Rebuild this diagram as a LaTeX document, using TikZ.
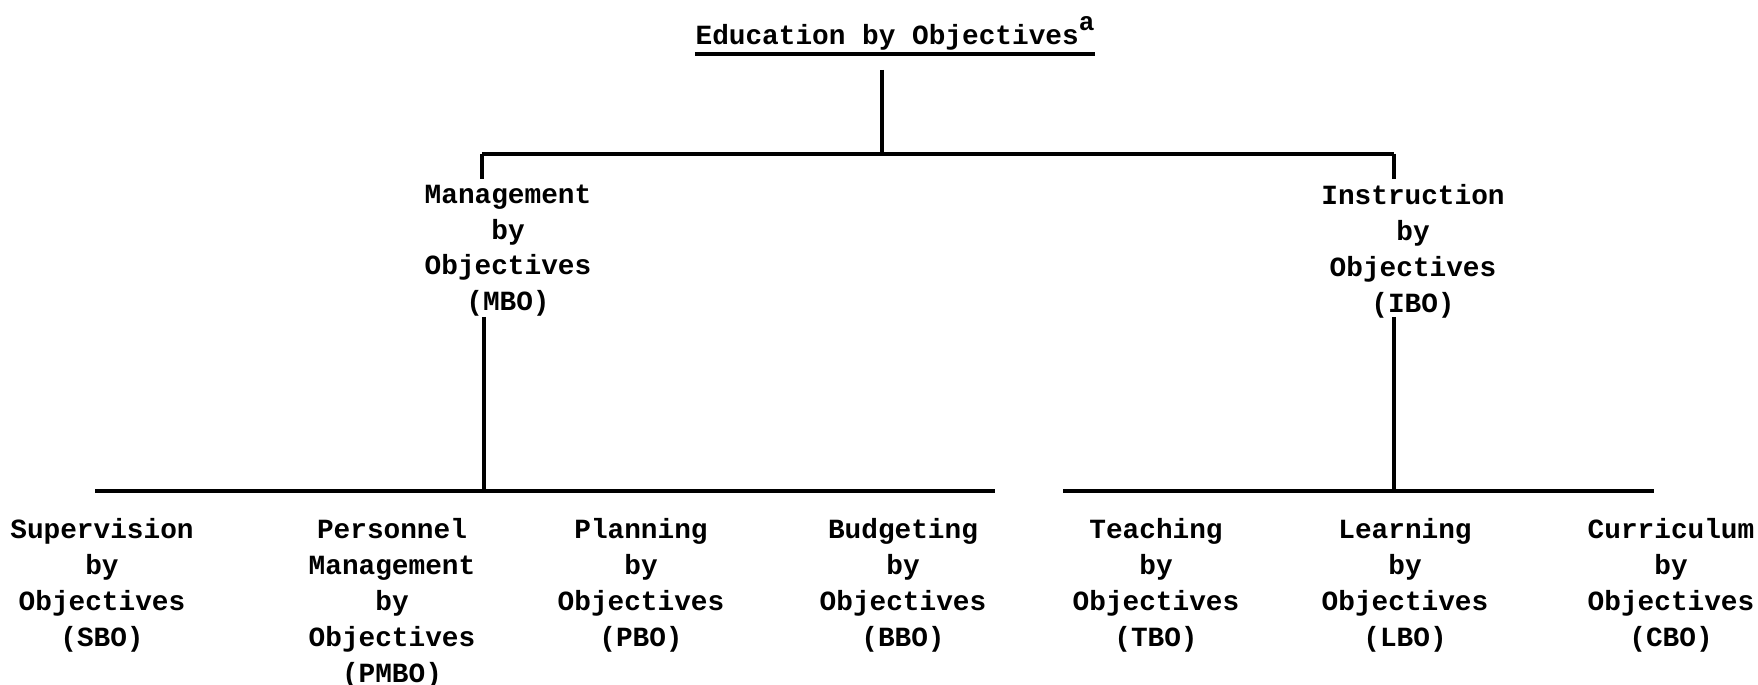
\documentclass[tikz,border=0pt]{standalone}
\usepackage{fontspec}
\newfontfamily\typewr{Liberation Mono}
\tikzset{
  unit/.style={font=\typewr\bfseries\fontsize{7.9}{10.2}\selectfont, align=center, inner sep=0pt, anchor=north},
  link/.style={line width=0.9pt}
}
\begin{document}
\begin{tikzpicture}

        \useasboundingbox (0,0) rectangle (17.58,6.84);

        % === Top of the tree ===
        \node[unit, anchor=base] (ebo) at (8.95, 6.39)
            {Education by Objectives\raisebox{1.0ex}{\fontsize{7.4}{8}\selectfont a}};
        % underline runs under the footnote mark as well
        \draw[line width=1pt] ([yshift=-2.6pt]ebo.base west) -- ([yshift=-2.6pt]ebo.base east);

        \coordinate (hub)  at (8.82, 6.14);
        \coordinate (bar)  at (8.82, 5.30);
        \coordinate (barL) at (4.82, 5.30);
        \coordinate (barR) at (13.94, 5.30);
        \coordinate (tickL) at (4.82, 5.05);
        \coordinate (tickR) at (13.94, 5.05);

        \draw[link] (hub) -- (bar);
        \draw[link] (barL) -- (barR);
        \draw[link] (barL) -- (tickL);
        \draw[link] (barR) -- (tickR);

        % === Second level ===
        \node[unit] (mbo) at (5.08, 5.00) {Management\\by\\Objectives\\(MBO)};
        \node[unit] (ibo) at (14.13, 5.00) {Instruction\\by\\Objectives\\(IBO)};

        % Drops to the lower bars
        \coordinate (mboDown) at (4.84, 3.67);
        \coordinate (mboBar)  at (4.84, 1.93);
        \coordinate (iboDown) at (13.94, 3.67);
        \coordinate (iboBar)  at (13.94, 1.93);
        \draw[link] (mboDown) -- (mboBar);
        \draw[link] (iboDown) -- (iboBar);

        % Lower bars
        \coordinate (lowL1) at (0.95, 1.93);
        \coordinate (lowL2) at (9.95, 1.93);
        \coordinate (lowR1) at (10.63, 1.93);
        \coordinate (lowR2) at (16.54, 1.93);
        \draw[link] (lowL1) -- (lowL2);
        \draw[link] (lowR1) -- (lowR2);

        % === Third level ===
        \node[unit] (sbo)  at (1.02, 1.66)  {Supervision\\by\\Objectives\\(SBO)};
        \node[unit] (pmbo) at (3.92, 1.66)  {Personnel\\Management\\by\\Objectives\\(PMBO)};
        \node[unit] (pbo)  at (6.41, 1.66)  {Planning\\by\\Objectives\\(PBO)};
        \node[unit] (bbo)  at (9.03, 1.66)  {Budgeting\\by\\Objectives\\(BBO)};
        \node[unit] (tbo)  at (11.56, 1.66) {Teaching\\by\\Objectives\\(TBO)};
        \node[unit] (lbo)  at (14.05, 1.66) {Learning\\by\\Objectives\\(LBO)};
        \node[unit] (cbo)  at (16.71, 1.66) {Curriculum\\by\\Objectives\\(CBO)};

    \end{tikzpicture}
\end{document}
